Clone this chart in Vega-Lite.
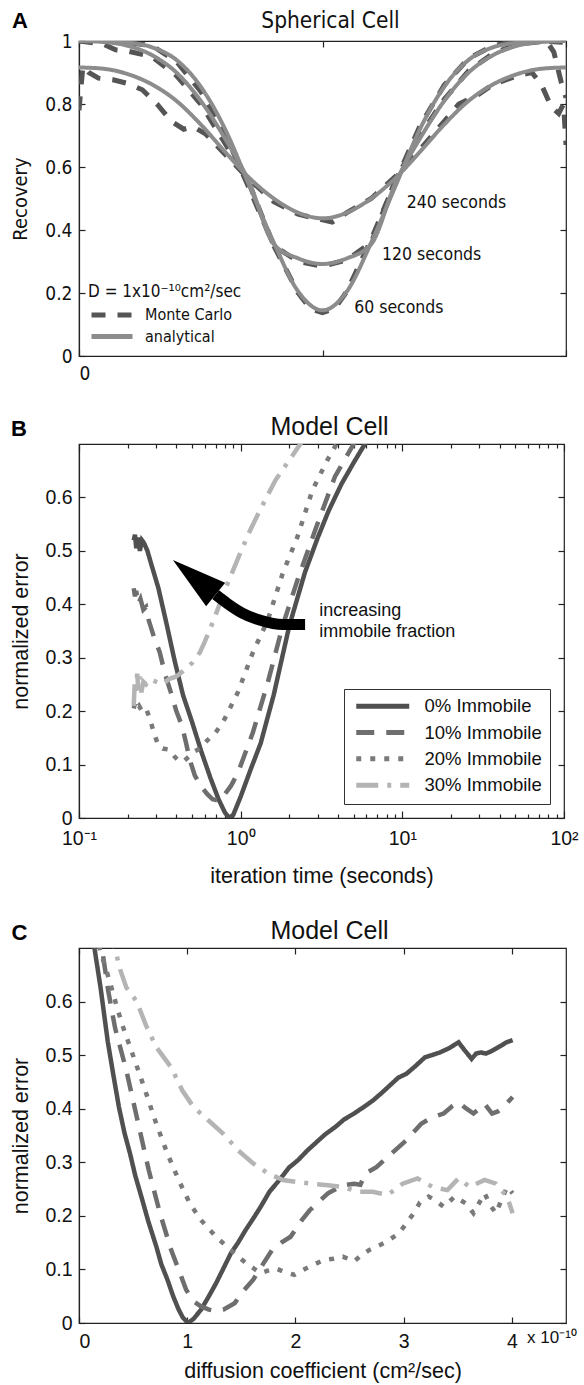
{
"$schema": "https://vega.github.io/schema/vega-lite/v6.json",
"padding": {"left": 10, "top": 8, "right": 0, "bottom": 0},
"spacing": 30,
"config": {
 "view": {"stroke": "#222222", "strokeWidth": 1.2},
 "axis": {"grid": false, "domainColor": "#222222", "tickColor": "#222222", "labelColor": "#111111", "titleColor": "#111111", "labelFont": "Liberation Sans", "titleFont": "Liberation Sans", "labelFontSize": 19.5, "titleFontSize": 21.5, "titleFontWeight": "normal", "tickSize": -6, "labelPadding": 13, "titlePadding": 12, "domainWidth": 1.2, "tickWidth": 1.2},
 "title": {"font": "Liberation Sans", "fontSize": 25, "fontWeight": "normal", "color": "#111111"}
},
"resolve": {"scale": {"color": "independent", "strokeDash": "independent", "x": "independent", "y": "independent"}, "legend": {"color": "independent", "strokeDash": "independent"}},
"datasets": {
 "A": [
  {"method":"analytical","time":"60","x":0,"y":1.0},{"method":"analytical","time":"60","x":0.05,"y":1.0},{"method":"analytical","time":"60","x":0.1,"y":0.995},{"method":"analytical","time":"60","x":0.15,"y":0.98},{"method":"analytical","time":"60","x":0.2,"y":0.94},{"method":"analytical","time":"60","x":0.25,"y":0.855},{"method":"analytical","time":"60","x":0.3,"y":0.72},{"method":"analytical","time":"60","x":0.35,"y":0.54},{"method":"analytical","time":"60","x":0.4,"y":0.36},{"method":"analytical","time":"60","x":0.45,"y":0.205},{"method":"analytical","time":"60","x":0.5,"y":0.145},{"method":"analytical","time":"60","x":0.55,"y":0.205},{"method":"analytical","time":"60","x":0.6,"y":0.36},{"method":"analytical","time":"60","x":0.65,"y":0.54},{"method":"analytical","time":"60","x":0.7,"y":0.72},{"method":"analytical","time":"60","x":0.75,"y":0.855},{"method":"analytical","time":"60","x":0.8,"y":0.94},{"method":"analytical","time":"60","x":0.85,"y":0.98},{"method":"analytical","time":"60","x":0.9,"y":0.995},{"method":"analytical","time":"60","x":0.95,"y":1.0},{"method":"analytical","time":"60","x":1.0,"y":1.0},
  {"method":"analytical","time":"120","x":0,"y":1.0},{"method":"analytical","time":"120","x":0.05,"y":0.997},{"method":"analytical","time":"120","x":0.1,"y":0.985},{"method":"analytical","time":"120","x":0.15,"y":0.955},{"method":"analytical","time":"120","x":0.2,"y":0.9},{"method":"analytical","time":"120","x":0.25,"y":0.81},{"method":"analytical","time":"120","x":0.3,"y":0.69},{"method":"analytical","time":"120","x":0.35,"y":0.55},{"method":"analytical","time":"120","x":0.4,"y":0.355},{"method":"analytical","time":"120","x":0.45,"y":0.31},{"method":"analytical","time":"120","x":0.5,"y":0.292},{"method":"analytical","time":"120","x":0.55,"y":0.31},{"method":"analytical","time":"120","x":0.6,"y":0.355},{"method":"analytical","time":"120","x":0.65,"y":0.55},{"method":"analytical","time":"120","x":0.7,"y":0.69},{"method":"analytical","time":"120","x":0.75,"y":0.81},{"method":"analytical","time":"120","x":0.8,"y":0.9},{"method":"analytical","time":"120","x":0.85,"y":0.955},{"method":"analytical","time":"120","x":0.9,"y":0.985},{"method":"analytical","time":"120","x":0.95,"y":0.997},{"method":"analytical","time":"120","x":1.0,"y":1.0},
  {"method":"analytical","time":"240","x":0,"y":0.916},{"method":"analytical","time":"240","x":0.05,"y":0.912},{"method":"analytical","time":"240","x":0.1,"y":0.895},{"method":"analytical","time":"240","x":0.15,"y":0.862},{"method":"analytical","time":"240","x":0.2,"y":0.81},{"method":"analytical","time":"240","x":0.25,"y":0.735},{"method":"analytical","time":"240","x":0.3,"y":0.648},{"method":"analytical","time":"240","x":0.35,"y":0.565},{"method":"analytical","time":"240","x":0.4,"y":0.5},{"method":"analytical","time":"240","x":0.45,"y":0.455},{"method":"analytical","time":"240","x":0.5,"y":0.437},{"method":"analytical","time":"240","x":0.55,"y":0.455},{"method":"analytical","time":"240","x":0.6,"y":0.5},{"method":"analytical","time":"240","x":0.65,"y":0.565},{"method":"analytical","time":"240","x":0.7,"y":0.648},{"method":"analytical","time":"240","x":0.75,"y":0.735},{"method":"analytical","time":"240","x":0.8,"y":0.81},{"method":"analytical","time":"240","x":0.85,"y":0.862},{"method":"analytical","time":"240","x":0.9,"y":0.895},{"method":"analytical","time":"240","x":0.95,"y":0.912},{"method":"analytical","time":"240","x":1.0,"y":0.916},
  {"method":"Monte Carlo","time":"60","x":0,"y":1.0},{"method":"Monte Carlo","time":"60","x":0.05,"y":1.0},{"method":"Monte Carlo","time":"60","x":0.1,"y":0.995},{"method":"Monte Carlo","time":"60","x":0.15,"y":0.985},{"method":"Monte Carlo","time":"60","x":0.2,"y":0.935},{"method":"Monte Carlo","time":"60","x":0.25,"y":0.84},{"method":"Monte Carlo","time":"60","x":0.3,"y":0.705},{"method":"Monte Carlo","time":"60","x":0.35,"y":0.53},{"method":"Monte Carlo","time":"60","x":0.4,"y":0.35},{"method":"Monte Carlo","time":"60","x":0.45,"y":0.2},{"method":"Monte Carlo","time":"60","x":0.475,"y":0.15},{"method":"Monte Carlo","time":"60","x":0.5,"y":0.138},{"method":"Monte Carlo","time":"60","x":0.525,"y":0.15},{"method":"Monte Carlo","time":"60","x":0.55,"y":0.205},{"method":"Monte Carlo","time":"60","x":0.6,"y":0.37},{"method":"Monte Carlo","time":"60","x":0.65,"y":0.555},{"method":"Monte Carlo","time":"60","x":0.7,"y":0.73},{"method":"Monte Carlo","time":"60","x":0.75,"y":0.86},{"method":"Monte Carlo","time":"60","x":0.8,"y":0.945},{"method":"Monte Carlo","time":"60","x":0.85,"y":0.985},{"method":"Monte Carlo","time":"60","x":0.9,"y":1.0},{"method":"Monte Carlo","time":"60","x":0.95,"y":1.0},{"method":"Monte Carlo","time":"60","x":1.0,"y":0.995},
  {"method":"Monte Carlo","time":"120","x":0,"y":1.0},{"method":"Monte Carlo","time":"120","x":0.05,"y":0.99},{"method":"Monte Carlo","time":"120","x":0.075,"y":0.972},{"method":"Monte Carlo","time":"120","x":0.1,"y":0.968},{"method":"Monte Carlo","time":"120","x":0.15,"y":0.95},{"method":"Monte Carlo","time":"120","x":0.2,"y":0.89},{"method":"Monte Carlo","time":"120","x":0.25,"y":0.8},{"method":"Monte Carlo","time":"120","x":0.3,"y":0.675},{"method":"Monte Carlo","time":"120","x":0.35,"y":0.545},{"method":"Monte Carlo","time":"120","x":0.4,"y":0.35},{"method":"Monte Carlo","time":"120","x":0.45,"y":0.3},{"method":"Monte Carlo","time":"120","x":0.5,"y":0.285},{"method":"Monte Carlo","time":"120","x":0.55,"y":0.305},{"method":"Monte Carlo","time":"120","x":0.6,"y":0.36},{"method":"Monte Carlo","time":"120","x":0.65,"y":0.56},{"method":"Monte Carlo","time":"120","x":0.7,"y":0.7},{"method":"Monte Carlo","time":"120","x":0.75,"y":0.815},{"method":"Monte Carlo","time":"120","x":0.8,"y":0.905},{"method":"Monte Carlo","time":"120","x":0.85,"y":0.96},{"method":"Monte Carlo","time":"120","x":0.9,"y":0.99},{"method":"Monte Carlo","time":"120","x":0.96,"y":1.0},{"method":"Monte Carlo","time":"120","x":0.975,"y":0.965},{"method":"Monte Carlo","time":"120","x":0.99,"y":0.87},{"method":"Monte Carlo","time":"120","x":1.0,"y":0.82},
  {"method":"Monte Carlo","time":"240","x":0,"y":0.78},{"method":"Monte Carlo","time":"240","x":0.008,"y":0.92},{"method":"Monte Carlo","time":"240","x":0.02,"y":0.9},{"method":"Monte Carlo","time":"240","x":0.04,"y":0.882},{"method":"Monte Carlo","time":"240","x":0.07,"y":0.877},{"method":"Monte Carlo","time":"240","x":0.1,"y":0.865},{"method":"Monte Carlo","time":"240","x":0.13,"y":0.845},{"method":"Monte Carlo","time":"240","x":0.16,"y":0.8},{"method":"Monte Carlo","time":"240","x":0.19,"y":0.745},{"method":"Monte Carlo","time":"240","x":0.215,"y":0.72},{"method":"Monte Carlo","time":"240","x":0.235,"y":0.728},{"method":"Monte Carlo","time":"240","x":0.26,"y":0.705},{"method":"Monte Carlo","time":"240","x":0.3,"y":0.64},{"method":"Monte Carlo","time":"240","x":0.35,"y":0.56},{"method":"Monte Carlo","time":"240","x":0.4,"y":0.49},{"method":"Monte Carlo","time":"240","x":0.45,"y":0.45},{"method":"Monte Carlo","time":"240","x":0.5,"y":0.432},{"method":"Monte Carlo","time":"240","x":0.52,"y":0.425},{"method":"Monte Carlo","time":"240","x":0.55,"y":0.455},{"method":"Monte Carlo","time":"240","x":0.6,"y":0.5},{"method":"Monte Carlo","time":"240","x":0.65,"y":0.57},{"method":"Monte Carlo","time":"240","x":0.7,"y":0.655},{"method":"Monte Carlo","time":"240","x":0.75,"y":0.745},{"method":"Monte Carlo","time":"240","x":0.78,"y":0.8},{"method":"Monte Carlo","time":"240","x":0.82,"y":0.83},{"method":"Monte Carlo","time":"240","x":0.85,"y":0.862},{"method":"Monte Carlo","time":"240","x":0.9,"y":0.89},{"method":"Monte Carlo","time":"240","x":0.93,"y":0.9},{"method":"Monte Carlo","time":"240","x":0.95,"y":0.86},{"method":"Monte Carlo","time":"240","x":0.97,"y":0.79},{"method":"Monte Carlo","time":"240","x":0.985,"y":0.77},{"method":"Monte Carlo","time":"240","x":0.995,"y":0.8},{"method":"Monte Carlo","time":"240","x":1.0,"y":0.67}
 ],
 "Alab": [
  {"label":"240 seconds","x":0.673,"y":0.486},
  {"label":"120 seconds","x":0.622,"y":0.321},
  {"label":"60 seconds","x":0.565,"y":0.152}
 ],
 "B": [
  {"series":"0% Immobile","x":0.218,"y":0.52},{"series":"0% Immobile","x":0.222,"y":0.53},{"series":"0% Immobile","x":0.226,"y":0.505},{"series":"0% Immobile","x":0.232,"y":0.525},{"series":"0% Immobile","x":0.238,"y":0.5},{"series":"0% Immobile","x":0.245,"y":0.52},{"series":"0% Immobile","x":0.252,"y":0.515},{"series":"0% Immobile","x":0.265,"y":0.5},{"series":"0% Immobile","x":0.28,"y":0.475},{"series":"0% Immobile","x":0.31,"y":0.43},{"series":"0% Immobile","x":0.35,"y":0.36},{"series":"0% Immobile","x":0.39,"y":0.295},{"series":"0% Immobile","x":0.44,"y":0.23},{"series":"0% Immobile","x":0.5,"y":0.18},{"series":"0% Immobile","x":0.57,"y":0.125},{"series":"0% Immobile","x":0.65,"y":0.075},{"series":"0% Immobile","x":0.73,"y":0.035},{"series":"0% Immobile","x":0.8,"y":0.01},{"series":"0% Immobile","x":0.85,"y":0.0},{"series":"0% Immobile","x":0.9,"y":0.006},{"series":"0% Immobile","x":1.0,"y":0.04},{"series":"0% Immobile","x":1.15,"y":0.09},{"series":"0% Immobile","x":1.33,"y":0.14},{"series":"0% Immobile","x":1.6,"y":0.23},{"series":"0% Immobile","x":2.0,"y":0.36},{"series":"0% Immobile","x":2.5,"y":0.46},{"series":"0% Immobile","x":3.0,"y":0.525},{"series":"0% Immobile","x":3.5,"y":0.575},{"series":"0% Immobile","x":4.2,"y":0.625},{"series":"0% Immobile","x":5.0,"y":0.665},{"series":"0% Immobile","x":6.0,"y":0.705},{"series":"0% Immobile","x":7.0,"y":0.74},
  {"series":"10% Immobile","x":0.218,"y":0.43},{"series":"10% Immobile","x":0.222,"y":0.415},{"series":"10% Immobile","x":0.226,"y":0.425},{"series":"10% Immobile","x":0.232,"y":0.4},{"series":"10% Immobile","x":0.24,"y":0.41},{"series":"10% Immobile","x":0.25,"y":0.39},{"series":"10% Immobile","x":0.26,"y":0.395},{"series":"10% Immobile","x":0.27,"y":0.37},{"series":"10% Immobile","x":0.29,"y":0.34},{"series":"10% Immobile","x":0.316,"y":0.31},{"series":"10% Immobile","x":0.34,"y":0.27},{"series":"10% Immobile","x":0.37,"y":0.235},{"series":"10% Immobile","x":0.4,"y":0.2},{"series":"10% Immobile","x":0.434,"y":0.172},{"series":"10% Immobile","x":0.46,"y":0.14},{"series":"10% Immobile","x":0.483,"y":0.11},{"series":"10% Immobile","x":0.52,"y":0.08},{"series":"10% Immobile","x":0.566,"y":0.06},{"series":"10% Immobile","x":0.62,"y":0.045},{"series":"10% Immobile","x":0.67,"y":0.035},{"series":"10% Immobile","x":0.74,"y":0.032},{"series":"10% Immobile","x":0.8,"y":0.045},{"series":"10% Immobile","x":0.87,"y":0.06},{"series":"10% Immobile","x":0.963,"y":0.085},{"series":"10% Immobile","x":1.19,"y":0.16},{"series":"10% Immobile","x":1.47,"y":0.253},{"series":"10% Immobile","x":1.82,"y":0.36},{"series":"10% Immobile","x":2.25,"y":0.446},{"series":"10% Immobile","x":2.94,"y":0.545},{"series":"10% Immobile","x":3.83,"y":0.639},{"series":"10% Immobile","x":5.0,"y":0.7},{"series":"10% Immobile","x":5.6,"y":0.73},
  {"series":"20% Immobile","x":0.218,"y":0.205},{"series":"20% Immobile","x":0.222,"y":0.215},{"series":"20% Immobile","x":0.228,"y":0.205},{"series":"20% Immobile","x":0.235,"y":0.21},{"series":"20% Immobile","x":0.245,"y":0.2},{"series":"20% Immobile","x":0.26,"y":0.205},{"series":"20% Immobile","x":0.275,"y":0.185},{"series":"20% Immobile","x":0.29,"y":0.16},{"series":"20% Immobile","x":0.31,"y":0.135},{"series":"20% Immobile","x":0.33,"y":0.13},{"series":"20% Immobile","x":0.36,"y":0.128},{"series":"20% Immobile","x":0.39,"y":0.115},{"series":"20% Immobile","x":0.42,"y":0.105},{"series":"20% Immobile","x":0.45,"y":0.108},{"series":"20% Immobile","x":0.48,"y":0.115},{"series":"20% Immobile","x":0.52,"y":0.125},{"series":"20% Immobile","x":0.56,"y":0.13},{"series":"20% Immobile","x":0.62,"y":0.145},{"series":"20% Immobile","x":0.7,"y":0.16},{"series":"20% Immobile","x":0.78,"y":0.18},{"series":"20% Immobile","x":0.96,"y":0.235},{"series":"20% Immobile","x":1.19,"y":0.31},{"series":"20% Immobile","x":1.47,"y":0.37},{"series":"20% Immobile","x":1.82,"y":0.458},{"series":"20% Immobile","x":2.25,"y":0.527},{"series":"20% Immobile","x":2.78,"y":0.614},{"series":"20% Immobile","x":3.44,"y":0.67},{"series":"20% Immobile","x":4.0,"y":0.705},{"series":"20% Immobile","x":4.5,"y":0.73},
  {"series":"30% Immobile","x":0.218,"y":0.21},{"series":"30% Immobile","x":0.221,"y":0.25},{"series":"30% Immobile","x":0.225,"y":0.235},{"series":"30% Immobile","x":0.229,"y":0.27},{"series":"30% Immobile","x":0.233,"y":0.24},{"series":"30% Immobile","x":0.238,"y":0.265},{"series":"30% Immobile","x":0.243,"y":0.235},{"series":"30% Immobile","x":0.25,"y":0.255},{"series":"30% Immobile","x":0.26,"y":0.25},{"series":"30% Immobile","x":0.275,"y":0.26},{"series":"30% Immobile","x":0.3,"y":0.255},{"series":"30% Immobile","x":0.33,"y":0.25},{"series":"30% Immobile","x":0.36,"y":0.26},{"series":"30% Immobile","x":0.4,"y":0.265},{"series":"30% Immobile","x":0.44,"y":0.275},{"series":"30% Immobile","x":0.5,"y":0.29},{"series":"30% Immobile","x":0.56,"y":0.31},{"series":"30% Immobile","x":0.6,"y":0.33},{"series":"30% Immobile","x":0.65,"y":0.355},{"series":"30% Immobile","x":0.72,"y":0.39},{"series":"30% Immobile","x":0.82,"y":0.435},{"series":"30% Immobile","x":0.96,"y":0.485},{"series":"30% Immobile","x":1.13,"y":0.535},{"series":"30% Immobile","x":1.32,"y":0.577},{"series":"30% Immobile","x":1.64,"y":0.632},{"series":"30% Immobile","x":2.0,"y":0.67},{"series":"30% Immobile","x":2.4,"y":0.705},{"series":"30% Immobile","x":2.8,"y":0.73}
 ],
 "arrow": [
  {"x":2.503,"y":0.362},{"x":1.822,"y":0.362},{"x":1.325,"y":0.37},{"x":1.016,"y":0.384},{"x":0.822,"y":0.402},{"x":0.7,"y":0.418}
 ],
 "Blab": [
  {"label":"increasing","x":3.064,"y":0.387},
  {"label":"immobile fraction","x":3.064,"y":0.348}
 ],
 "C": [
  {"series":"0% Immobile","x":0.12,"y":0.74},{"series":"0% Immobile","x":0.145,"y":0.697},{"series":"0% Immobile","x":0.2,"y":0.625},{"series":"0% Immobile","x":0.266,"y":0.525},{"series":"0% Immobile","x":0.32,"y":0.46},{"series":"0% Immobile","x":0.369,"y":0.403},{"series":"0% Immobile","x":0.42,"y":0.355},{"series":"0% Immobile","x":0.472,"y":0.316},{"series":"0% Immobile","x":0.52,"y":0.275},{"series":"0% Immobile","x":0.576,"y":0.236},{"series":"0% Immobile","x":0.64,"y":0.19},{"series":"0% Immobile","x":0.714,"y":0.143},{"series":"0% Immobile","x":0.76,"y":0.11},{"series":"0% Immobile","x":0.817,"y":0.081},{"series":"0% Immobile","x":0.87,"y":0.05},{"series":"0% Immobile","x":0.921,"y":0.025},{"series":"0% Immobile","x":0.96,"y":0.01},{"series":"0% Immobile","x":1.007,"y":0.0},{"series":"0% Immobile","x":1.06,"y":0.008},{"series":"0% Immobile","x":1.128,"y":0.025},{"series":"0% Immobile","x":1.2,"y":0.05},{"series":"0% Immobile","x":1.266,"y":0.074},{"series":"0% Immobile","x":1.33,"y":0.1},{"series":"0% Immobile","x":1.403,"y":0.13},{"series":"0% Immobile","x":1.47,"y":0.15},{"series":"0% Immobile","x":1.541,"y":0.174},{"series":"0% Immobile","x":1.61,"y":0.195},{"series":"0% Immobile","x":1.679,"y":0.217},{"series":"0% Immobile","x":1.76,"y":0.245},{"series":"0% Immobile","x":1.852,"y":0.267},{"series":"0% Immobile","x":1.94,"y":0.29},{"series":"0% Immobile","x":2.024,"y":0.304},{"series":"0% Immobile","x":2.11,"y":0.322},{"series":"0% Immobile","x":2.197,"y":0.338},{"series":"0% Immobile","x":2.28,"y":0.353},{"series":"0% Immobile","x":2.369,"y":0.366},{"series":"0% Immobile","x":2.45,"y":0.38},{"series":"0% Immobile","x":2.541,"y":0.391},{"series":"0% Immobile","x":2.63,"y":0.403},{"series":"0% Immobile","x":2.714,"y":0.415},{"series":"0% Immobile","x":2.8,"y":0.43},{"series":"0% Immobile","x":2.886,"y":0.446},{"series":"0% Immobile","x":2.95,"y":0.458},{"series":"0% Immobile","x":3.024,"y":0.465},{"series":"0% Immobile","x":3.1,"y":0.478},{"series":"0% Immobile","x":3.197,"y":0.496},{"series":"0% Immobile","x":3.26,"y":0.5},{"series":"0% Immobile","x":3.334,"y":0.505},{"series":"0% Immobile","x":3.42,"y":0.513},{"series":"0% Immobile","x":3.507,"y":0.524},{"series":"0% Immobile","x":3.56,"y":0.51},{"series":"0% Immobile","x":3.628,"y":0.493},{"series":"0% Immobile","x":3.67,"y":0.503},{"series":"0% Immobile","x":3.714,"y":0.505},{"series":"0% Immobile","x":3.76,"y":0.503},{"series":"0% Immobile","x":3.817,"y":0.508},{"series":"0% Immobile","x":3.86,"y":0.513},{"series":"0% Immobile","x":3.903,"y":0.518},{"series":"0% Immobile","x":3.95,"y":0.524},{"series":"0% Immobile","x":4.007,"y":0.528},
  {"series":"10% Immobile","x":0.18,"y":0.74},{"series":"10% Immobile","x":0.214,"y":0.697},{"series":"10% Immobile","x":0.27,"y":0.62},{"series":"10% Immobile","x":0.334,"y":0.55},{"series":"10% Immobile","x":0.438,"y":0.471},{"series":"10% Immobile","x":0.541,"y":0.378},{"series":"10% Immobile","x":0.645,"y":0.285},{"series":"10% Immobile","x":0.748,"y":0.205},{"series":"10% Immobile","x":0.852,"y":0.136},{"series":"10% Immobile","x":0.92,"y":0.1},{"series":"10% Immobile","x":0.99,"y":0.062},{"series":"10% Immobile","x":1.06,"y":0.04},{"series":"10% Immobile","x":1.128,"y":0.031},{"series":"10% Immobile","x":1.2,"y":0.025},{"series":"10% Immobile","x":1.27,"y":0.022},{"series":"10% Immobile","x":1.334,"y":0.025},{"series":"10% Immobile","x":1.438,"y":0.037},{"series":"10% Immobile","x":1.52,"y":0.06},{"series":"10% Immobile","x":1.61,"y":0.081},{"series":"10% Immobile","x":1.7,"y":0.11},{"series":"10% Immobile","x":1.783,"y":0.136},{"series":"10% Immobile","x":1.87,"y":0.15},{"series":"10% Immobile","x":1.955,"y":0.161},{"series":"10% Immobile","x":2.059,"y":0.192},{"series":"10% Immobile","x":2.13,"y":0.21},{"series":"10% Immobile","x":2.197,"y":0.223},{"series":"10% Immobile","x":2.3,"y":0.242},{"series":"10% Immobile","x":2.438,"y":0.257},{"series":"10% Immobile","x":2.541,"y":0.26},{"series":"10% Immobile","x":2.6,"y":0.258},{"series":"10% Immobile","x":2.645,"y":0.279},{"series":"10% Immobile","x":2.748,"y":0.291},{"series":"10% Immobile","x":2.886,"y":0.316},{"series":"10% Immobile","x":3.024,"y":0.341},{"series":"10% Immobile","x":3.162,"y":0.372},{"series":"10% Immobile","x":3.266,"y":0.384},{"series":"10% Immobile","x":3.369,"y":0.391},{"series":"10% Immobile","x":3.45,"y":0.405},{"series":"10% Immobile","x":3.507,"y":0.412},{"series":"10% Immobile","x":3.58,"y":0.4},{"series":"10% Immobile","x":3.645,"y":0.391},{"series":"10% Immobile","x":3.7,"y":0.4},{"series":"10% Immobile","x":3.748,"y":0.409},{"series":"10% Immobile","x":3.817,"y":0.391},{"series":"10% Immobile","x":3.87,"y":0.395},{"series":"10% Immobile","x":3.921,"y":0.403},{"series":"10% Immobile","x":4.007,"y":0.422},
  {"series":"20% Immobile","x":0.15,"y":0.73},{"series":"20% Immobile","x":0.197,"y":0.694},{"series":"20% Immobile","x":0.25,"y":0.66},{"series":"20% Immobile","x":0.3,"y":0.626},{"series":"20% Immobile","x":0.35,"y":0.59},{"series":"20% Immobile","x":0.403,"y":0.555},{"series":"20% Immobile","x":0.507,"y":0.495},{"series":"20% Immobile","x":0.61,"y":0.435},{"series":"20% Immobile","x":0.714,"y":0.372},{"series":"20% Immobile","x":0.817,"y":0.316},{"series":"20% Immobile","x":0.921,"y":0.267},{"series":"20% Immobile","x":1.024,"y":0.223},{"series":"20% Immobile","x":1.128,"y":0.192},{"series":"20% Immobile","x":1.266,"y":0.161},{"series":"20% Immobile","x":1.403,"y":0.136},{"series":"20% Immobile","x":1.541,"y":0.112},{"series":"20% Immobile","x":1.679,"y":0.093},{"series":"20% Immobile","x":1.75,"y":0.098},{"series":"20% Immobile","x":1.817,"y":0.102},{"series":"20% Immobile","x":1.9,"y":0.095},{"series":"20% Immobile","x":1.99,"y":0.09},{"series":"20% Immobile","x":2.06,"y":0.098},{"series":"20% Immobile","x":2.128,"y":0.105},{"series":"20% Immobile","x":2.266,"y":0.118},{"series":"20% Immobile","x":2.35,"y":0.12},{"series":"20% Immobile","x":2.438,"y":0.124},{"series":"20% Immobile","x":2.541,"y":0.115},{"series":"20% Immobile","x":2.6,"y":0.125},{"series":"20% Immobile","x":2.679,"y":0.136},{"series":"20% Immobile","x":2.817,"y":0.149},{"series":"20% Immobile","x":2.955,"y":0.167},{"series":"20% Immobile","x":3.093,"y":0.205},{"series":"20% Immobile","x":3.15,"y":0.225},{"series":"20% Immobile","x":3.231,"y":0.236},{"series":"20% Immobile","x":3.3,"y":0.228},{"series":"20% Immobile","x":3.369,"y":0.217},{"series":"20% Immobile","x":3.472,"y":0.236},{"series":"20% Immobile","x":3.576,"y":0.223},{"series":"20% Immobile","x":3.645,"y":0.205},{"series":"20% Immobile","x":3.7,"y":0.225},{"series":"20% Immobile","x":3.748,"y":0.242},{"series":"20% Immobile","x":3.8,"y":0.22},{"series":"20% Immobile","x":3.852,"y":0.205},{"series":"20% Immobile","x":3.955,"y":0.254},{"series":"20% Immobile","x":4.007,"y":0.242},
  {"series":"30% Immobile","x":0.28,"y":0.74},{"series":"30% Immobile","x":0.334,"y":0.697},{"series":"30% Immobile","x":0.38,"y":0.66},{"series":"30% Immobile","x":0.438,"y":0.626},{"series":"30% Immobile","x":0.534,"y":0.6},{"series":"30% Immobile","x":0.62,"y":0.555},{"series":"30% Immobile","x":0.714,"y":0.515},{"series":"30% Immobile","x":0.852,"y":0.477},{"series":"30% Immobile","x":0.955,"y":0.434},{"series":"30% Immobile","x":1.059,"y":0.403},{"series":"30% Immobile","x":1.197,"y":0.378},{"series":"30% Immobile","x":1.334,"y":0.353},{"series":"30% Immobile","x":1.472,"y":0.322},{"series":"30% Immobile","x":1.61,"y":0.298},{"series":"30% Immobile","x":1.748,"y":0.279},{"series":"30% Immobile","x":1.886,"y":0.267},{"series":"30% Immobile","x":2.024,"y":0.263},{"series":"30% Immobile","x":2.162,"y":0.26},{"series":"30% Immobile","x":2.3,"y":0.257},{"series":"30% Immobile","x":2.438,"y":0.254},{"series":"30% Immobile","x":2.576,"y":0.245},{"series":"30% Immobile","x":2.714,"y":0.245},{"series":"30% Immobile","x":2.852,"y":0.239},{"series":"30% Immobile","x":2.99,"y":0.26},{"series":"30% Immobile","x":3.128,"y":0.27},{"series":"30% Immobile","x":3.266,"y":0.254},{"series":"30% Immobile","x":3.404,"y":0.248},{"series":"30% Immobile","x":3.507,"y":0.27},{"series":"30% Immobile","x":3.61,"y":0.254},{"series":"30% Immobile","x":3.748,"y":0.267},{"series":"30% Immobile","x":3.852,"y":0.26},{"series":"30% Immobile","x":3.955,"y":0.236},{"series":"30% Immobile","x":4.007,"y":0.205}
 ]
},
"vconcat": [
 {
  "width": 487, "height": 315,
  "title": {"text": "Spherical Cell", "font": "DejaVu Sans Condensed", "fontSize": 22.5, "anchor": "middle", "frame": "group", "dx": 8, "offset": -22},
  "resolve": {"axis": {"x": "independent", "y": "independent"}},
  "layer": [
   {
    "data": {"name": "A"},
    "transform": [{"filter": "datum.method == 'Monte Carlo'"}],
    "mark": {"type": "line", "strokeWidth": 5, "clip": true},
    "encoding": {
     "x": {"field": "x", "type": "quantitative", "scale": {"domain": [0, 1], "nice": false, "zero": false}, "axis": {"values": [0, 0.5, 1], "labelExpr": "datum.value == 0 ? '0' : ''", "title": null, "labelFont": "DejaVu Sans Condensed", "labelFontSize": 19, "labelPadding": 14}},
     "y": {"field": "y", "type": "quantitative", "scale": {"domain": [0, 1], "nice": false, "zero": false}, "axis": {"values": [0, 0.2, 0.4, 0.6, 0.8, 1], "format": "~g", "title": "Recovery", "labelFont": "DejaVu Sans Condensed", "labelFontSize": 19, "titleFont": "DejaVu Sans Condensed", "titleFontSize": 20, "titlePadding": 14}},
     "color": {"field": "method", "type": "nominal", "scale": {"domain": ["Monte Carlo", "analytical"], "range": ["#555555", "#8c8c8c"]},
       "legend": {"title": "D = 1x10⁻¹⁰cm²/sec", "orient": "bottom-left", "offset": 9, "padding": 0, "titleFont": "DejaVu Sans Condensed", "titleFontSize": 17, "titleFontWeight": "normal", "titleColor": "#111111", "titlePadding": 6, "titleLimit": 300, "labelFont": "DejaVu Sans Condensed", "labelFontSize": 16, "labelColor": "#111111", "labelOffset": 41, "symbolType": "M-0.9,0H7.3", "symbolSize": 100, "symbolStrokeWidth": 5, "rowPadding": 1.5}},
     "strokeDash": {"field": "method", "type": "nominal", "scale": {"domain": ["Monte Carlo", "analytical"], "range": [[14, 12], [1, 0]]}},
     "detail": {"field": "time"}
    }
   },
   {
    "data": {"name": "A"},
    "transform": [{"filter": "datum.method == 'analytical'"}],
    "mark": {"type": "line", "strokeWidth": 4, "interpolate": "monotone", "clip": true},
    "encoding": {
     "x": {"field": "x", "type": "quantitative", "axis": null},
     "y": {"field": "y", "type": "quantitative", "axis": null},
     "color": {"field": "method", "type": "nominal"},
     "strokeDash": {"field": "method", "type": "nominal"},
     "detail": {"field": "time"}
    }
   },
   {
    "data": {"name": "Alab"},
    "mark": {"type": "text", "align": "left", "baseline": "middle", "font": "DejaVu Sans Condensed", "fontSize": 17.5, "color": "#111111"},
    "encoding": {
     "x": {"field": "x", "type": "quantitative", "axis": {"orient": "top", "values": [0, 0.5, 1], "labels": false, "domain": false, "title": null}},
     "y": {"field": "y", "type": "quantitative", "axis": {"orient": "right", "values": [0, 0.2, 0.4, 0.6, 0.8, 1], "labels": false, "domain": false, "title": null}},
     "text": {"field": "label"}
    }
   },
   {
    "data": {"values": [{"letter": "A", "x": -0.1376, "y": 1.041}]},
    "mark": {"type": "text", "align": "left", "baseline": "alphabetic", "font": "Liberation Sans", "fontWeight": "bold", "fontSize": 22, "color": "#000000"},
    "encoding": {
     "x": {"field": "x", "type": "quantitative", "axis": null},
     "y": {"field": "y", "type": "quantitative", "axis": null},
     "text": {"field": "letter"}
    }
   }
  ]
 },
 {
  "width": 485, "height": 374,
  "title": {"text": "Model Cell", "anchor": "middle", "frame": "group", "dx": 8, "offset": -22},
  "resolve": {"axis": {"x": "independent", "y": "independent"}},
  "layer": [
   {
    "data": {"name": "B"},
    "mark": {"type": "line", "strokeWidth": 4.5, "clip": true},
    "encoding": {
     "x": {"field": "x", "type": "quantitative", "scale": {"type": "log", "domain": [0.1, 100], "nice": false}, "axis": {"values": [0.1,0.2,0.3,0.4,0.5,0.6,0.7,0.8,0.9,1,2,3,4,5,6,7,8,9,10,20,30,40,50,60,70,80,90,100], "labelExpr": "datum.value == 0.1 ? '10⁻¹' : datum.value == 1 ? '10⁰' : datum.value == 10 ? '10¹' : datum.value == 100 ? '10²' : ''", "title": "iteration time (seconds)", "labelPadding": 18, "titlePadding": 18, "labelFlush": false, "tickSize": {"condition": {"test": "datum.value == 0.1 || datum.value == 1 || datum.value == 10 || datum.value == 100", "value": -7}, "value": -4}}},
     "y": {"field": "y", "type": "quantitative", "scale": {"domain": [0, 0.7], "nice": false, "zero": false}, "axis": {"values": [0, 0.1, 0.2, 0.3, 0.4, 0.5, 0.6], "format": "~g", "title": "normalized error"}},
     "color": {"field": "series", "type": "nominal", "scale": {"domain": ["0% Immobile", "10% Immobile", "20% Immobile", "30% Immobile"], "range": ["#505050", "#6e6e6e", "#7a7a7a", "#b4b4b4"]},
       "legend": {"title": null, "orient": "bottom-right", "offset": 14, "padding": 8, "strokeColor": "#333333", "fillColor": "#ffffff", "labelFont": "Liberation Sans", "labelFontSize": 18.5, "labelColor": "#111111", "labelOffset": 54, "symbolType": "M-1,0H9.6", "symbolSize": 100, "symbolStrokeWidth": 5, "rowPadding": 5.3}},
     "strokeDash": {"field": "series", "type": "nominal", "scale": {"domain": ["0% Immobile", "10% Immobile", "20% Immobile", "30% Immobile"], "range": [[1, 0], [18, 12], [5, 9], [22, 9, 4, 9]]}}
    }
   },
   {
    "data": {"name": "arrow"},
    "mark": {"type": "line", "strokeWidth": 11, "color": "#000000", "interpolate": "monotone", "strokeCap": "butt"},
    "encoding": {
     "x": {"field": "x", "type": "quantitative", "axis": null},
     "y": {"field": "y", "type": "quantitative", "axis": null}
    }
   },
   {
    "data": {"values": [{"x": 0.5166, "y": 0.4507}]},
    "mark": {"type": "point", "shape": "M0,-1L0.55,1L-0.55,1Z", "filled": true, "color": "#000000", "opacity": 1, "size": 3025, "angle": 309},
    "encoding": {
     "x": {"field": "x", "type": "quantitative", "axis": null},
     "y": {"field": "y", "type": "quantitative", "axis": null}
    }
   },
   {
    "data": {"name": "Blab"},
    "mark": {"type": "text", "align": "left", "baseline": "middle", "font": "Liberation Sans", "fontSize": 18, "color": "#111111"},
    "encoding": {
     "x": {"field": "x", "type": "quantitative", "axis": {"orient": "top", "values": [0.1,0.2,0.3,0.4,0.5,0.6,0.7,0.8,0.9,1,2,3,4,5,6,7,8,9,10,20,30,40,50,60,70,80,90,100], "labels": false, "domain": false, "title": null, "tickSize": {"condition": {"test": "datum.value == 0.1 || datum.value == 1 || datum.value == 10 || datum.value == 100", "value": -7}, "value": -4}}},
     "y": {"field": "y", "type": "quantitative", "axis": {"orient": "right", "values": [0, 0.1, 0.2, 0.3, 0.4, 0.5, 0.6], "labels": false, "domain": false, "title": null}},
     "text": {"field": "label"}
    }
   },
   {
    "data": {"values": [{"letter": "B", "x": 0.038, "y": 0.7155}]},
    "mark": {"type": "text", "align": "left", "baseline": "alphabetic", "font": "Liberation Sans", "fontWeight": "bold", "fontSize": 22, "color": "#000000"},
    "encoding": {
     "x": {"field": "x", "type": "quantitative", "axis": null},
     "y": {"field": "y", "type": "quantitative", "axis": null},
     "text": {"field": "letter"}
    }
   }
  ]
 },
 {
  "width": 487, "height": 375,
  "title": {"text": "Model Cell", "anchor": "middle", "frame": "group", "dx": 7, "offset": -22},
  "resolve": {"axis": {"x": "independent", "y": "independent"}},
  "layer": [
   {
    "data": {"name": "C"},
    "mark": {"type": "line", "strokeWidth": 4.5, "clip": true},
    "encoding": {
     "x": {"field": "x", "type": "quantitative", "scale": {"domain": [0, 4.5], "nice": false, "zero": false}, "axis": {"values": [0, 1, 2, 3, 4], "format": "d", "title": "diffusion coefficient (cm²/sec)", "labelPadding": 15, "titlePadding": 10}},
     "y": {"field": "y", "type": "quantitative", "scale": {"domain": [0, 0.7], "nice": false, "zero": false}, "axis": {"values": [0, 0.1, 0.2, 0.3, 0.4, 0.5, 0.6], "format": "~g", "title": "normalized error"}},
     "color": {"field": "series", "type": "nominal", "scale": {"domain": ["0% Immobile", "10% Immobile", "20% Immobile", "30% Immobile"], "range": ["#505050", "#6e6e6e", "#7a7a7a", "#b4b4b4"]}, "legend": null},
     "strokeDash": {"field": "series", "type": "nominal", "scale": {"domain": ["0% Immobile", "10% Immobile", "20% Immobile", "30% Immobile"], "range": [[1, 0], [18, 12], [5, 9], [22, 9, 4, 9]]}, "legend": null}
    }
   },
   {
    "data": {"values": [{"label": "x 10⁻¹⁰", "x": 4.14, "y": -0.028}]},
    "mark": {"type": "text", "align": "left", "baseline": "middle", "font": "Liberation Sans", "fontSize": 17, "color": "#111111"},
    "encoding": {
     "x": {"field": "x", "type": "quantitative", "axis": {"orient": "top", "values": [0, 1, 2, 3, 4], "labels": false, "domain": false, "title": null}},
     "y": {"field": "y", "type": "quantitative", "axis": {"orient": "right", "values": [0, 0.1, 0.2, 0.3, 0.4, 0.5, 0.6], "labels": false, "domain": false, "title": null}},
     "text": {"field": "label"}
    }
   },
   {
    "data": {"values": [{"letter": "C", "x": -0.623, "y": 0.715}]},
    "mark": {"type": "text", "align": "left", "baseline": "alphabetic", "font": "Liberation Sans", "fontWeight": "bold", "fontSize": 22, "color": "#000000"},
    "encoding": {
     "x": {"field": "x", "type": "quantitative", "axis": null},
     "y": {"field": "y", "type": "quantitative", "axis": null},
     "text": {"field": "letter"}
    }
   }
  ]
 }
]
}
